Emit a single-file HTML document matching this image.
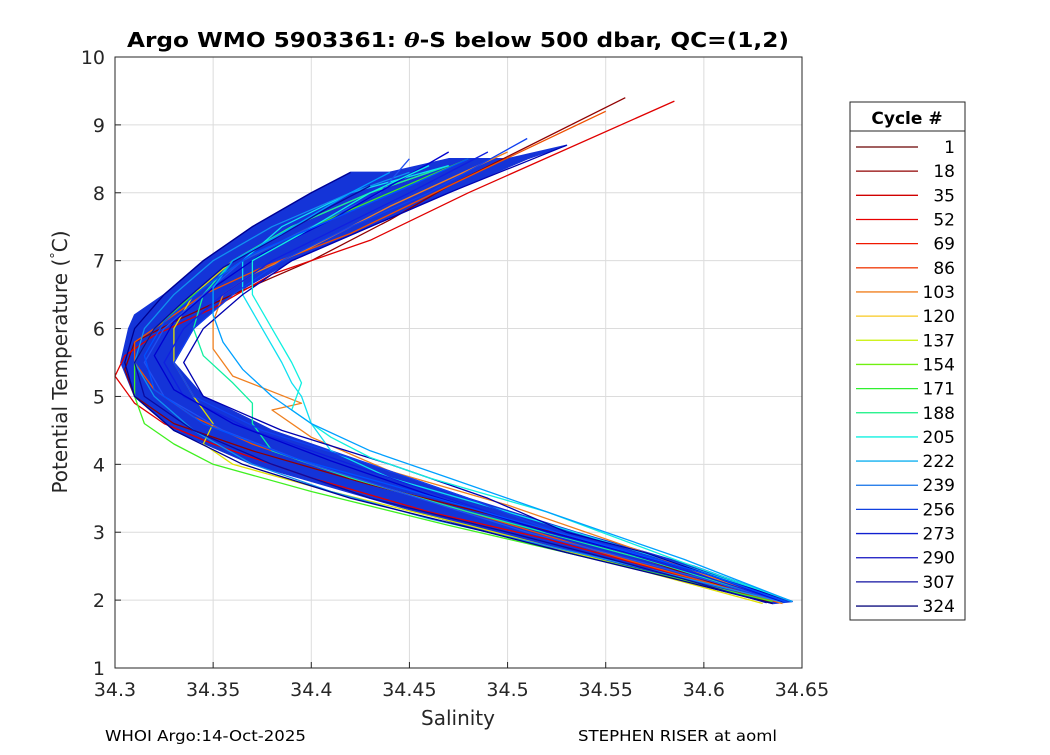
<!DOCTYPE html>
<html><head><meta charset="utf-8"><style>
body{margin:0;background:#fff;}
svg{font-family:"DejaVu Sans","Liberation Sans",sans-serif;}
</style></head><body>
<svg id="c" width="1050" height="750" xmlns="http://www.w3.org/2000/svg">
<rect x="0" y="0" width="1050" height="750" fill="#fff"/>
<g id="grid"></g>
<g id="band"></g>
<g id="lines"></g>
<rect x="115" y="57" width="687" height="611" fill="none" stroke="#262626" stroke-width="1"/>
<g id="ticks"></g>
<text x="458" y="47" text-anchor="middle" font-size="20" font-weight="bold" fill="#000" textLength="662" lengthAdjust="spacingAndGlyphs">Argo WMO 5903361: <tspan font-style="italic" font-family="DejaVu Serif">θ</tspan>-S below 500 dbar,  QC=(1,2)</text>
<text x="458" y="725" text-anchor="middle" font-size="20" fill="#262626">Salinity</text>
<text transform="translate(67,362) rotate(-90)" text-anchor="middle" font-size="20" fill="#262626">Potential Temperature (<tspan dy="-7" font-size="13">°</tspan><tspan dy="7">C)</tspan></text>
<text x="105" y="741" font-size="15" fill="#000" textLength="201" lengthAdjust="spacingAndGlyphs">WHOI Argo:14-Oct-2025</text>
<text x="578" y="741" font-size="15" fill="#000" textLength="199" lengthAdjust="spacingAndGlyphs">STEPHEN RISER at aoml</text>
<g id="legend">
<rect x="850" y="102" width="115" height="518" fill="#fff" stroke="#262626"/>
<line x1="850" y1="131" x2="965" y2="131" stroke="#262626"/>
<text x="907" y="124" text-anchor="middle" font-size="17" font-weight="bold">Cycle #</text>
</g>
</svg>
<script>
const xTicks=[34.3,34.35,34.4,34.45,34.5,34.55,34.6,34.65];
const xTickLabels=["34.3","34.35","34.4","34.45","34.5","34.55","34.6","34.65"];
const yTicks=[1,2,3,4,5,6,7,8,9,10];
const legendCycles=[1,18,35,52,69,86,103,120,137,154,171,188,205,222,239,256,273,290,307,324];
const legendColors=["#6a0000","#900000","#d00000","#e80000","#f01800","#f04010","#f08020","#f8c820","#c8f000","#70f010","#30f030","#10f080","#10f0e0","#10b0f0","#1070e8","#1040e0","#1020d0","#1010c0","#1010a0","#101080"];
// envelope of the dense blue profile cloud (salinity, temperature)
const bandSal=[34.42,34.40,34.37,34.345,34.325,34.31,34.307,34.303,34.31,34.33,34.37,34.43,34.49,34.56,34.635,34.645,34.595,34.535,34.48,34.43,34.38,34.345,34.33,34.34,34.36,34.39,34.43,34.47,34.51,34.53,34.50,34.47,34.44];
const bandTemp=[8.3,8.0,7.5,7.0,6.5,6.2,6.0,5.5,5.0,4.5,4.0,3.5,3.0,2.5,1.95,1.98,2.5,3.0,3.5,4.0,4.5,5.0,5.5,6.0,6.5,7.0,7.5,8.0,8.5,8.7,8.5,8.5,8.3];
const profileColors=["#900000","#e00000","#f05000","#f08020","#e0e000","#40f020","#10f0a0","#10e0f0","#1090f0","#0000b0","#2050f0","#000090","#1020e0","#0a0aa0","#1040f0","#0000d0","#10f0e0","#00a0ff","#0050ff"];
const profileSal=[
[34.56,34.47,34.44,34.40,34.36,34.33,34.31,34.305,34.31,34.33,34.37,34.43,34.50,34.57,34.635],
[34.585,34.48,34.43,34.38,34.35,34.32,34.305,34.30,34.31,34.325,34.35,34.40,34.46,34.52,34.64],
[34.55,34.47,34.42,34.375,34.345,34.325,34.31,34.31,34.32,34.34,34.37,34.42,34.48,34.56,34.64],
[34.50,34.44,34.40,34.37,34.355,34.35,34.35,34.36,34.395,34.38,34.40,34.44,34.50,34.57,34.64],
[34.46,34.43,34.39,34.36,34.34,34.33,34.33,34.34,34.35,34.345,34.36,34.41,34.48,34.56,34.63],
[34.48,34.44,34.40,34.365,34.34,34.32,34.31,34.31,34.315,34.33,34.35,34.40,34.47,34.56,34.635],
[34.47,34.43,34.39,34.36,34.345,34.34,34.345,34.36,34.37,34.37,34.38,34.42,34.48,34.57,34.64],
[34.47,34.42,34.385,34.365,34.365,34.375,34.385,34.39,34.395,34.40,34.41,34.44,34.50,34.58,34.645],
[34.45,34.42,34.38,34.35,34.33,34.315,34.31,34.32,34.34,34.37,34.41,34.46,34.52,34.58,34.64],
[34.53,34.47,34.43,34.39,34.365,34.345,34.335,34.345,34.385,34.44,34.49,34.53,34.57,34.61,34.645],
[34.45,34.435,34.40,34.365,34.345,34.325,34.315,34.325,34.355,34.40,34.455,34.51,34.55,34.595,34.64],
[34.42,34.40,34.37,34.345,34.325,34.31,34.305,34.31,34.33,34.365,34.42,34.49,34.53,34.58,34.635],
[34.49,34.45,34.415,34.38,34.355,34.335,34.325,34.335,34.37,34.42,34.47,34.52,34.56,34.60,34.64],
[34.43,34.41,34.38,34.355,34.335,34.32,34.31,34.315,34.34,34.38,34.43,34.50,34.54,34.585,34.632],
[34.51,34.46,34.42,34.385,34.36,34.34,34.33,34.34,34.375,34.43,34.48,34.525,34.565,34.605,34.642],
[34.47,34.44,34.41,34.375,34.35,34.33,34.32,34.33,34.36,34.41,34.46,34.515,34.555,34.60,34.64],
[34.46,34.43,34.395,34.37,34.37,34.38,34.39,34.395,34.39,34.41,34.43,34.46,34.52,34.585,34.645],
[34.44,34.42,34.385,34.36,34.35,34.35,34.355,34.365,34.38,34.40,34.43,34.47,34.52,34.59,34.645],
[34.48,34.45,34.41,34.37,34.345,34.325,34.315,34.32,34.345,34.39,34.44,34.50,34.55,34.60,34.642]
];
const profileTemp=[
[9.4,8.1,7.6,7.0,6.5,6.1,5.8,5.4,5.0,4.6,4.2,3.7,3.2,2.6,1.95],
[9.35,8.0,7.3,6.8,6.3,5.9,5.6,5.3,4.9,4.6,4.3,3.8,3.3,2.9,1.95],
[9.2,8.1,7.4,6.9,6.5,6.1,5.8,5.5,5.1,4.7,4.3,3.8,3.3,2.6,1.95],
[8.6,7.8,7.2,6.8,6.5,6.1,5.7,5.3,4.9,4.8,4.4,3.9,3.4,2.7,1.95],
[8.3,8.0,7.5,7.0,6.5,6.0,5.5,5.0,4.6,4.3,4.0,3.6,3.1,2.5,1.95],
[8.5,8.0,7.5,7.0,6.5,6.0,5.5,5.0,4.6,4.3,4.0,3.6,3.1,2.5,1.98],
[8.4,8.0,7.5,7.0,6.5,6.0,5.6,5.2,4.9,4.6,4.2,3.8,3.3,2.6,1.98],
[8.4,8.0,7.5,7.0,6.5,6.0,5.5,5.2,5.0,4.6,4.2,3.8,3.3,2.6,1.98],
[8.3,8.0,7.5,7.0,6.5,6.0,5.5,5.0,4.5,4.0,3.6,3.2,2.8,2.4,1.97],
[8.7,8.0,7.5,7.0,6.5,6.0,5.5,5.0,4.5,4.0,3.5,3.0,2.7,2.3,1.98],
[8.5,8.0,7.5,7.0,6.5,6.0,5.5,5.0,4.5,4.0,3.5,3.0,2.7,2.35,1.98],
[8.3,8.0,7.5,7.0,6.5,6.0,5.5,5.0,4.5,4.0,3.5,3.0,2.7,2.35,1.95],
[8.6,8.0,7.5,7.0,6.5,6.0,5.5,5.0,4.5,4.0,3.5,3.0,2.7,2.35,1.98],
[8.1,7.8,7.3,6.9,6.4,6.0,5.5,5.0,4.5,4.0,3.5,3.0,2.7,2.35,1.96],
[8.8,8.0,7.5,7.0,6.5,6.0,5.5,5.0,4.5,4.0,3.5,3.0,2.7,2.35,1.98],
[8.6,8.1,7.6,7.1,6.6,6.1,5.6,5.1,4.6,4.05,3.55,3.05,2.75,2.4,1.98],
[8.4,8.0,7.4,7.0,6.5,6.0,5.5,5.2,4.8,4.4,4.1,3.8,3.3,2.6,1.98],
[8.3,8.0,7.4,7.0,6.6,6.2,5.8,5.4,5.0,4.6,4.2,3.8,3.3,2.6,1.98],
[8.5,8.1,7.6,7.1,6.6,6.1,5.6,5.1,4.6,4.1,3.7,3.2,2.8,2.4,1.97]
];
const NS="http://www.w3.org/2000/svg";
const L=115,R=802,T=57,B=668,x0=34.3,x1=34.65,y0=1,y1=10;
const sx=v=>L+(v-x0)/(x1-x0)*(R-L);
const sy=v=>B-(v-y0)/(y1-y0)*(B-T);
function mk(tag,attrs,parent){const e=document.createElementNS(NS,tag);for(const k in attrs)e.setAttribute(k,attrs[k]);parent.appendChild(e);return e;}
const grid=document.getElementById('grid'),ticks=document.getElementById('ticks'),lines=document.getElementById('lines'),leg=document.getElementById('legend'),band=document.getElementById('band');
xTicks.forEach((v,i)=>{
 const g=mk('line',{x1:sx(v),x2:sx(v),y1:T,y2:B,stroke:'#dcdcdc','stroke-width':1},grid);
 
 
 mk('line',{x1:sx(v),x2:sx(v),y1:B,y2:B-6,stroke:'#262626'},ticks);
 const t=mk('text',{x:sx(v),y:B+28,'text-anchor':'middle','font-size':19,fill:'#262626'},ticks);
 t.textContent=xTickLabels[i];
 
 
});
yTicks.forEach(v=>{
 const g=mk('line',{x1:L,x2:R,y1:sy(v),y2:sy(v),stroke:'#dcdcdc','stroke-width':1},grid);
 
 
 mk('line',{x1:L,x2:L+6,y1:sy(v),y2:sy(v),stroke:'#262626'},ticks);
 const t=mk('text',{x:L-10,y:sy(v)+7,'text-anchor':'end','font-size':19,fill:'#262626'},ticks);
 t.textContent=String(v);
 
 
});
const bp=mk('polygon',{points:bandSal.map((v,j)=>sx(v).toFixed(1)+','+sy(bandTemp[j]).toFixed(1)).join(' '),fill:'#1434d8',stroke:'#1434d8','stroke-width':1.5,'stroke-linejoin':'round'},band);


profileSal.forEach((s,i)=>{
 const pts=s.map((v,j)=>sx(v).toFixed(1)+','+sy(profileTemp[i][j]).toFixed(1)).join(' ');
 const p=mk('polyline',{points:pts,fill:'none',stroke:profileColors[i],'stroke-width':1.3,'stroke-linejoin':'round'},lines);
 
 
});
legendCycles.forEach((c,i)=>{
 const y=147+i*24.16;
 const l=mk('line',{x1:856,x2:918,y1:y,y2:y,stroke:legendColors[i],'stroke-width':1.3},leg);
 
 
 const t=mk('text',{x:955,y:y+6,'text-anchor':'end','font-size':17,fill:'#000'},leg);
 t.textContent=String(c);
 
 
});
</script>
</body></html>
